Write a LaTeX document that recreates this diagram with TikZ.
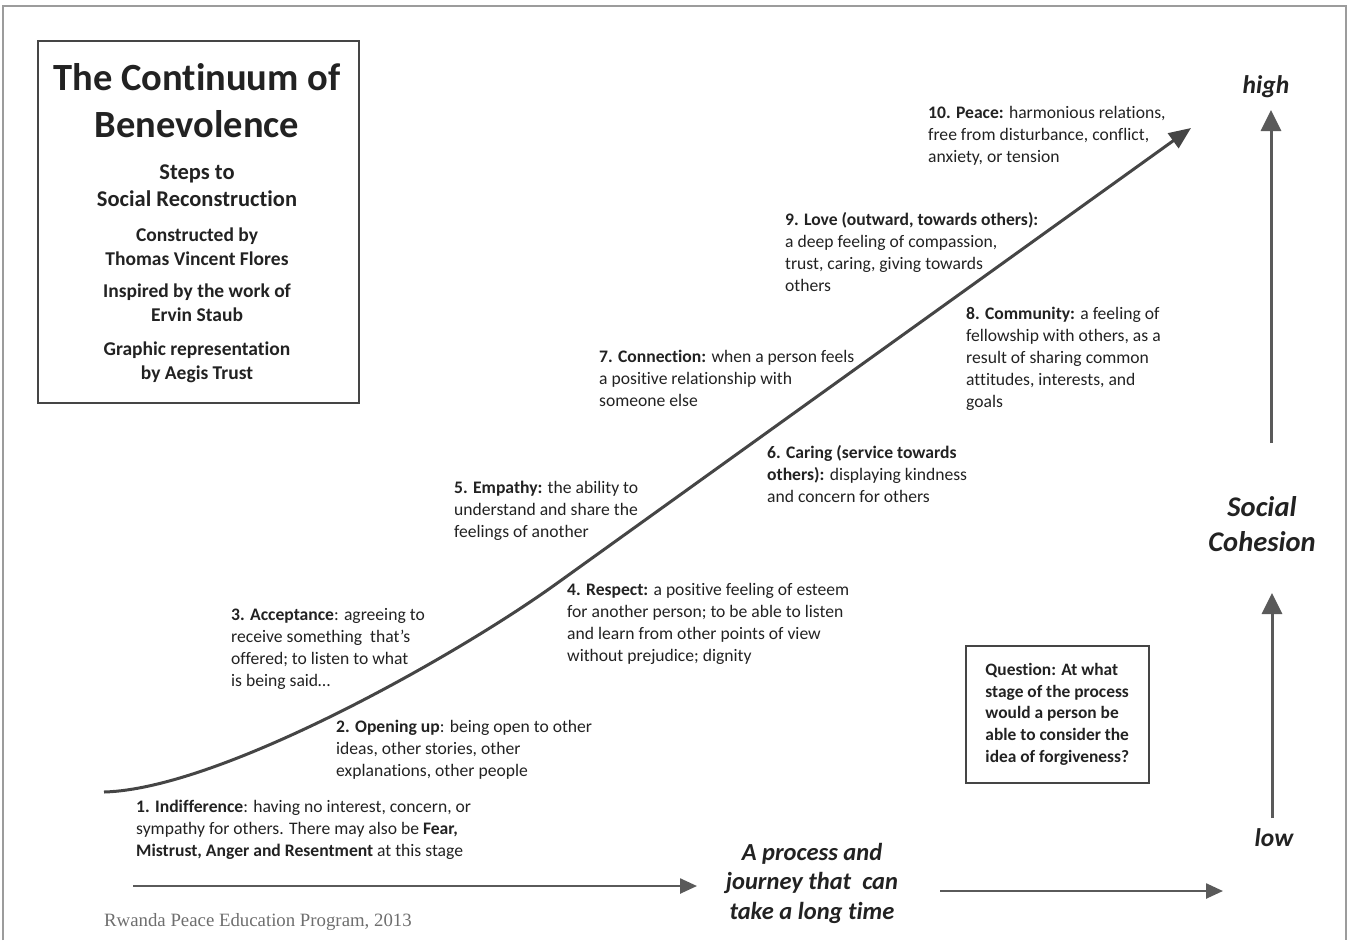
\documentclass[tikz,border=0pt]{standalone}
\usepackage{fontspec}
\setmainfont{Carlito}[Ligatures=NoCommon]
\newfontfamily\capfont{Liberation Serif}
\usetikzlibrary{arrows.meta}
\definecolor{txt}{HTML}{222222}
\definecolor{ln}{HTML}{454545}
\definecolor{ar}{HTML}{5A5A5A}
\definecolor{frm}{HTML}{9C9C9C}
\definecolor{capc}{HTML}{6E6E6E}
\begin{document}
\begin{tikzpicture}[x=1pt,y=-1pt,
  lbl/.style={anchor=base west, align=left, inner sep=0pt, text=txt,
    font=\fontsize{17.6}{21.9}\selectfont},
  ttl/.style={align=center, inner sep=0pt, text=txt},
  side/.style={align=center, inner sep=0pt, text=txt,
    font=\bfseries\itshape\fontsize{25.5}{35}\selectfont},
  uparrow/.style={draw=ar, line width=3pt, -{Triangle[length=21pt,width=20pt]}},
  botarrow/.style={draw=ar, line width=2.5pt, -{Triangle[length=17pt,width=15pt]}},
  curvearrow/.style={draw=ln, line width=3pt, -{Triangle[length=22pt,width=18pt]}}
]
\useasboundingbox (0,0) rectangle (1349,940);
% outer frame
\draw[frm, line width=1.5pt] (3,940) -- (3,6) -- (1346,6) -- (1346,940);

% title box
\node[draw=ln, line width=2.2pt, minimum width=321pt, minimum height=362pt,
  anchor=north west, inner sep=0pt] (titlebox) at (37,40) {};
\node[ttl, font=\bfseries\fontsize{38.5}{47}\selectfont, anchor=base] (title) at (197,137)
  {The Continuum of\\Benevolence};
\node[ttl, font=\bfseries\fontsize{22.5}{27}\selectfont, anchor=base] (steps) at (197,206)
  {Steps to\\Social Reconstruction};
\node[ttl, font=\bfseries\fontsize{19.5}{24}\selectfont, anchor=base] (constr) at (197,265)
  {Constructed by\\Thomas Vincent Flores};
\node[ttl, font=\bfseries\fontsize{19.5}{23.5}\selectfont, anchor=base] (insp) at (197,321)
  {Inspired by the work of\\Ervin Staub};
\node[ttl, font=\bfseries\fontsize{19.5}{24}\selectfont, anchor=base] (graph) at (197,379)
  {Graphic representation\\by Aegis Trust};

% main curve
\coordinate (c0) at (104,792);
\coordinate (cm) at (556,584);
\coordinate (ctip) at (1191,128);
\draw[curvearrow] (c0) .. controls (220,789) and (456,656) .. (cm) -- (ctip);

% step texts (anchored at the baseline of the last line)
\node[lbl] (s1) at (136,856) {\textbf{1. Indifference}: having no interest, concern, or\\
  sympathy for others. There may also be \textbf{Fear,}\\
  \textbf{Mistrust, Anger and Resentment} at this stage};
\node[lbl] (s2) at (336,776) {\textbf{2. Opening up}: being open to other\\
  ideas, other stories, other\\explanations, other people};
\node[lbl] (s3) at (231,686) {\textbf{3. Acceptance}: agreeing to\\
  receive something\ \ that’s\\offered; to listen to what\\is being said…};
\node[lbl] (s4) at (567,661) {\textbf{4. Respect:} a positive feeling of esteem\\
  for another person; to be able to listen\\and learn from other points of view\\
  without prejudice; dignity};
\node[lbl] (s5) at (454,537) {\textbf{5. Empathy:} the ability to\\
  understand and share the\\feelings of another};
\node[lbl] (s6) at (767,502) {\textbf{6. Caring (service towards}\\
  \textbf{others):} displaying kindness\\and concern for others};
\node[lbl] (s7) at (599,406) {\textbf{7. Connection:} when a person feels\\
  a positive relationship with\\someone else};
\node[lbl] (s8) at (966,407) {\textbf{8. Community:} a feeling of\\
  fellowship with others, as a\\result of sharing common\\
  attitudes, interests, and\\goals};
\node[lbl] (s9) at (785,291) {\textbf{9. Love (outward, towards others):}\\
  a deep feeling of compassion,\\trust, caring, giving towards\\others};
\node[lbl] (s10) at (928,162) {\textbf{10. Peace:} harmonious relations,\\
  free from disturbance, conflict,\\anxiety, or tension};

% question box
\node[draw=ln, line width=1.6pt, anchor=north west, minimum width=183pt,
  minimum height=137pt, inner sep=0pt, align=left, text=txt,
  font=\bfseries\fontsize{17.4}{21.9}\selectfont] (question) at (965,645)
  {Question: At what\\stage of the process\\would a person be\\
   able to consider the\\idea of forgiveness?};

% social cohesion axis
\node[side, anchor=base] (high) at (1266,93) {high};
\node[side, font=\bfseries\itshape\fontsize{28.5}{35}\selectfont, anchor=base] (cohesion) at (1262,551)
  {Social\\Cohesion};
\node[side, anchor=base] (low) at (1274,846) {low};
\coordinate (u0) at (1271,443);
\coordinate (u1) at (1271,110);
\coordinate (l0) at (1272,818);
\coordinate (l1) at (1272,593);
\draw[uparrow] (u0) -- (u1);
\draw[uparrow] (l0) -- (l1);

% process axis
\node[side, font=\bfseries\itshape\fontsize{24.5}{29.5}\selectfont, anchor=base] (process) at (812,919)
  {A process and\\journey that\ \ can\\take a long time};
\coordinate (b0) at (133,886);
\coordinate (b1) at (697,886);
\coordinate (b2) at (940,891);
\coordinate (b3) at (1223,891);
\draw[botarrow] (b0) -- (b1);
\draw[botarrow] (b2) -- (b3);

% caption
\node[anchor=base west, inner sep=0pt, text=capc,
  font=\capfont\fontsize{18.8}{20}\selectfont] (caption) at (104,926)
  {Rwanda Peace Education Program, 2013};
\end{tikzpicture}
\end{document}
